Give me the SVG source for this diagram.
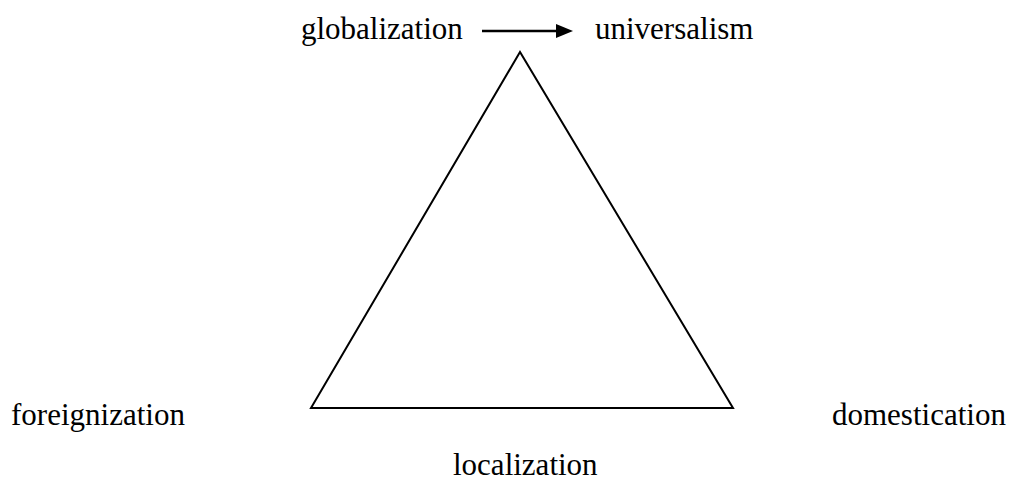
<svg xmlns="http://www.w3.org/2000/svg" width="1013" height="481" viewBox="0 0 1013 481">
<style>
text{font-family:"Liberation Serif","Times New Roman",serif;font-size:31px;fill:#000}
.ln{stroke:#000;stroke-width:2;fill:none}
</style>
<rect width="1013" height="481" fill="#fff"/>
<g id="triangle"><polygon class="ln" points="520,52 311,408 733,408"/></g>
<g id="globalization"><text x="301" y="39">globalization</text></g>
<g id="universalism"><text x="595" y="39">universalism</text></g>
<g id="foreignization"><text x="11" y="425">foreignization</text></g>
<g id="domestication"><text x="832" y="425">domestication</text></g>
<g id="localization"><text x="453" y="475">localization</text></g>
<g id="connectors">
<line x1="482" y1="31" x2="558" y2="31" stroke="#000" stroke-width="2.5"/>
<path d="M556,24 L573,31 L556,38 z" fill="#000"/>
</g>
</svg>
